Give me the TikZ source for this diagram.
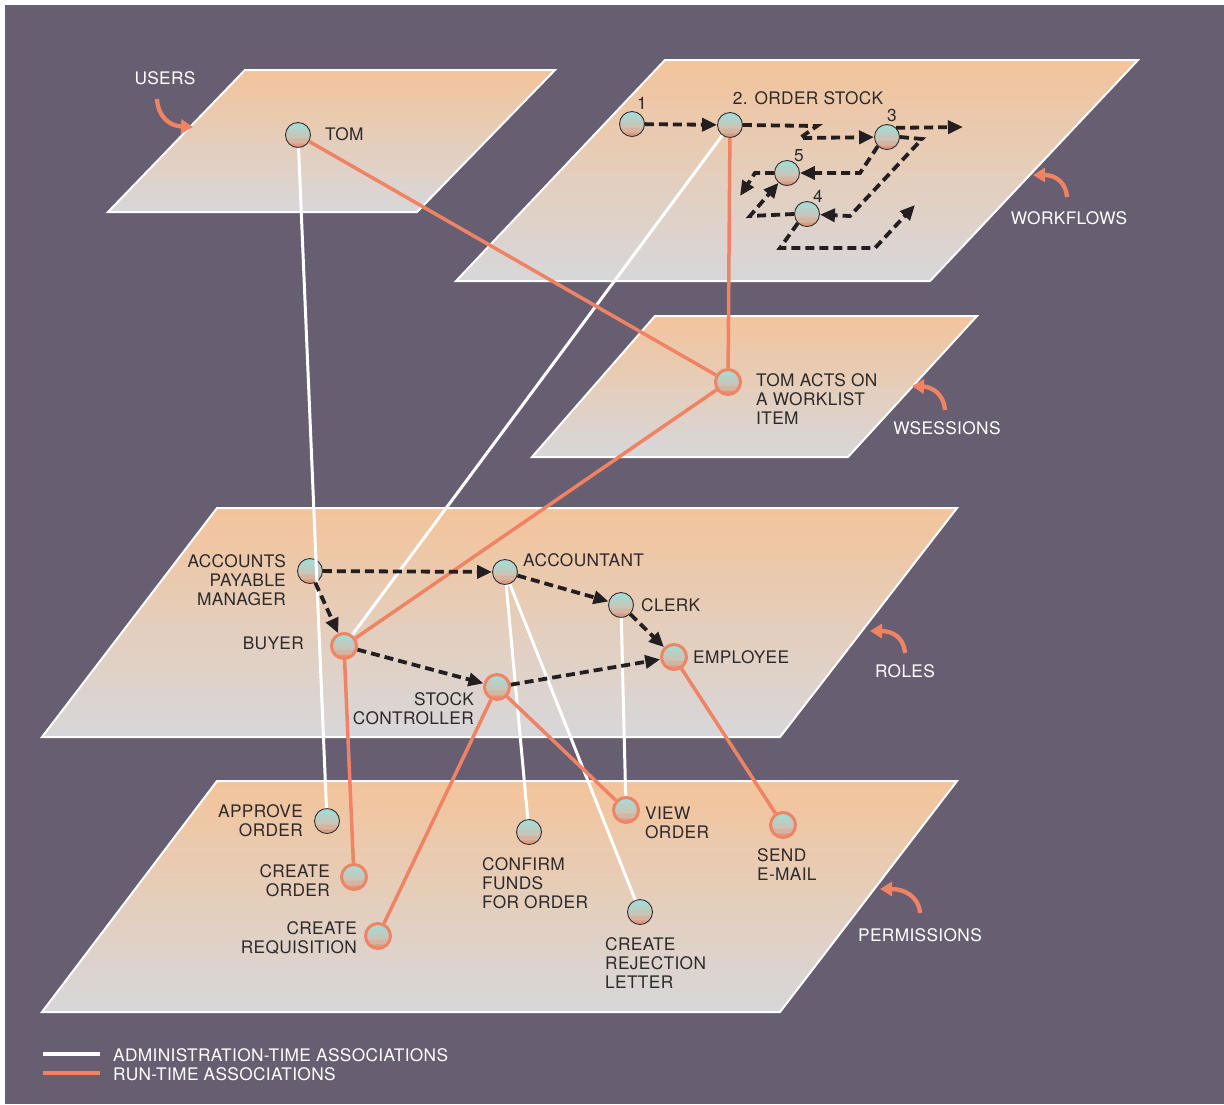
\documentclass[tikz,border=0pt]{standalone}
\usepackage{fontspec}
\setmainfont{TeX Gyre Heros}[LetterSpace=2]
\usetikzlibrary{arrows.meta}

\definecolor{bgpurple}{RGB}{103,94,113}
\definecolor{planetop}{RGB}{243,196,155}
\definecolor{planebot}{RGB}{215,215,218}
\definecolor{runline}{RGB}{240,131,100}
\definecolor{flowink}{RGB}{35,31,32}
\definecolor{labelink}{RGB}{45,42,44}
\definecolor{orbline}{RGB}{50,46,48}
\definecolor{orbA}{RGB}{168,218,211}
\definecolor{orbB}{RGB}{183,208,198}
\definecolor{orbC}{RGB}{199,198,184}
\definecolor{orbD}{RGB}{212,181,162}
\definecolor{orbE}{RGB}{224,153,128}

% banded ball shading (bottom to top)
\pgfdeclareverticalshading{orbshade}{100bp}{%
  color(0bp)=(orbE); color(25bp)=(orbE); color(34bp)=(orbE);
  color(35bp)=(orbD); color(44bp)=(orbD);
  color(45bp)=(orbC); color(54bp)=(orbC);
  color(55bp)=(orbB); color(63bp)=(orbB);
  color(64bp)=(orbA); color(75bp)=(orbA); color(100bp)=(orbA)}

\begin{document}
\begin{tikzpicture}[x=1pt,y=-1pt,
  lbl/.style={font=\fontsize{17.3}{19}\selectfont, text=labelink, inner sep=0pt},
  tag/.style={font=\fontsize{17.3}{19}\selectfont, text=white, inner sep=0pt},
  orb/.style={circle, minimum size=25pt, inner sep=0pt, shade, shading=orbshade,
              draw=orbline, line width=0.9pt},
  hot/.style={orb, draw=runline, line width=3pt},
  plane/.style={draw=white, line width=2pt, top color=planetop, bottom color=planebot},
  admin/.style={draw=white, line width=3pt},
  run/.style={draw=runline, line width=3.5pt},
  flow/.style={draw=flowink, line width=3.8pt, dash pattern=on 9pt off 5pt,
               -{Triangle[length=15pt,width=13pt]}},
  callout/.style={draw=runline, line width=4.3pt, -{Triangle[length=12pt,width=14pt]}},
]
\useasboundingbox (0,0) rectangle (1224,1104);
\fill[white] (0,0) rectangle (1224,1104);
\fill[bgpurple] (5,5) rectangle (1224,1104);

% layers
\path[plane] (245,70) -- (555,70) -- (417,212) -- (108,212) -- cycle;
\path[plane] (665,60) -- (1138,60) -- (930,281) -- (456,281) -- cycle;
\path[plane] (655,316) -- (977,316) -- (848,457) -- (532,457) -- cycle;
\path[plane] (217,508) -- (957,508) -- (780,737) -- (42,737) -- cycle;
\path[plane] (217,781) -- (957,781) -- (780,1012) -- (42,1012) -- cycle;

% layer names with pointers
\node[tag] (tusers) at (165,78) {USERS};
\node[tag] (tflows) at (1069,218) {WORKFLOWS};
\node[tag] (tsess) at (947,428) {WSESSIONS};
\node[tag] (troles) at (905,671) {ROLES};
\node[tag] (tperm) at (920,935) {PERMISSIONS};
\draw[callout] (157,99) .. controls (158,117) and (170,126) .. (193,127);
\draw[callout] (1067,197) .. controls (1066,182) and (1055,175) .. (1033,175);
\draw[callout] (945,410) .. controls (944,395) and (933,387) .. (912,386);
\draw[callout] (905,653) .. controls (904,638) and (893,631) .. (870,631);
\draw[callout] (920,913) .. controls (919,897) and (905,889) .. (880,889);

% entities
\node[orb] (tom) at (298,135) {};
\node[orb] (w1) at (632,124) {};
\node[orb] (w2) at (730,125) {};
\node[orb] (w3) at (887,137) {};
\node[orb] (w5) at (787,173) {};
\node[orb] (w4) at (807,214) {};
\node[hot] (act) at (728,382) {};
\node[orb] (apm) at (310,571) {};
\node[orb] (acct) at (505,572) {};
\node[orb] (clerk) at (621,605) {};
\node[hot] (buyer) at (344,646) {};
\node[hot] (emp) at (674,657) {};
\node[hot] (sc) at (497,687) {};
\node[orb] (approve) at (327,821) {};
\node[hot] (corder) at (354,877) {};
\node[hot] (creq) at (378,936) {};
\node[orb] (confirm) at (529,832) {};
\node[hot] (view) at (626,810) {};
\node[hot] (email) at (783,825) {};
\node[orb] (reject) at (640,912) {};

% labels
\node[lbl, anchor=west] (ltom) at (325,134) {TOM};
\node[lbl] (lw1) at (642,103) {1};
\node[lbl] (lw2) at (808,98) {2. ORDER STOCK};
\node[lbl] (lw3) at (892,115) {3};
\node[lbl] (lw5) at (799,156) {5};
\node[lbl] (lw4) at (818,196) {4};
\node[lbl, anchor=west, align=left] (lact) at (756,399) {TOM ACTS ON\\A WORKLIST\\ITEM};
\node[lbl, anchor=east, align=right] (lapm) at (286,580.5) {ACCOUNTS\\PAYABLE\\MANAGER};
\node[lbl, anchor=west] (lacct) at (523,560) {ACCOUNTANT};
\node[lbl, anchor=west] (lclerk) at (641,605) {CLERK};
\node[lbl, anchor=east] (lbuyer) at (304,643) {BUYER};
\node[lbl, anchor=west] (lemp) at (693,657) {EMPLOYEE};
\node[lbl, anchor=east, align=right] (lsc) at (474,708.5) {STOCK\\CONTROLLER};
\node[lbl, anchor=east, align=right] (lapprove) at (303,821) {APPROVE\\ORDER};
\node[lbl, anchor=east, align=right] (lcorder) at (330,880.5) {CREATE\\ORDER};
\node[lbl, anchor=east, align=right] (lcreq) at (357,937.5) {CREATE\\REQUISITION};
\node[lbl, anchor=west, align=left] (lconfirm) at (482,883) {CONFIRM\\FUNDS\\FOR ORDER};
\node[lbl, anchor=west, align=left] (lview) at (645,823) {VIEW\\ORDER};
\node[lbl, anchor=west, align=left] (lemail) at (757,864.5) {SEND\\E-MAIL};
\node[lbl, anchor=west, align=left] (lreject) at (605,963) {CREATE\\REJECTION\\LETTER};

% administration-time associations
\draw[admin] (tom) -- (approve);
\draw[admin] (w2) -- (buyer);
\draw[admin] (acct) -- (confirm);
\draw[admin] (acct) -- (reject);
\draw[admin] (clerk) -- (view);

% run-time associations
\draw[run] (tom) -- (act);
\draw[run] (w2) -- (act);
\draw[run] (act) -- (buyer);
\draw[run] (buyer) -- (corder);
\draw[run] (sc) -- (creq);
\draw[run] (sc) -- (view);
\draw[run] (emp) -- (email);

% role hierarchy
\draw[flow] (apm) -- (acct);
\draw[flow] (apm) -- (buyer);
\draw[flow] (acct) -- (clerk);
\draw[flow] (clerk) -- (emp);
\draw[flow] (buyer) -- (sc);
\draw[flow] (sc) -- (emp);

% workflow steps
\coordinate (out3) at (963,127);
\coordinate (out5) at (740,196);
\coordinate (out4) at (915,205);
\draw[flow] (w1) -- (w2);
\draw[flow] (w2.east) -- (817,126) -- (800,138) -- (w3);
\draw[flow] (w3.north east) -- (out3);
\draw[flow] (w3.south west) -- (860,173) -- (w5);
\draw[flow] (w3.east) -- (922,139) -- (850,216) -- (w4);
\draw[flow] (w5.west) -- (755,173) -- (out5);
\draw[flow] (w4.west) -- (750,216) -- (w5);
\draw[flow] (w4.south west) -- (780,248) -- (875,248) -- (out4);

% legend
\coordinate (ka1) at (43,1054);
\coordinate (ka2) at (100,1054);
\coordinate (kr1) at (43,1073);
\coordinate (kr2) at (100,1073);
\draw[admin, line width=3.5pt] (ka1) -- (ka2);
\draw[run] (kr1) -- (kr2);
\node[tag, anchor=west] (kadmin) at (113,1055) {ADMINISTRATION-TIME ASSOCIATIONS};
\node[tag, anchor=west] (krun) at (113,1074) {RUN-TIME ASSOCIATIONS};
\end{tikzpicture}
\end{document}
